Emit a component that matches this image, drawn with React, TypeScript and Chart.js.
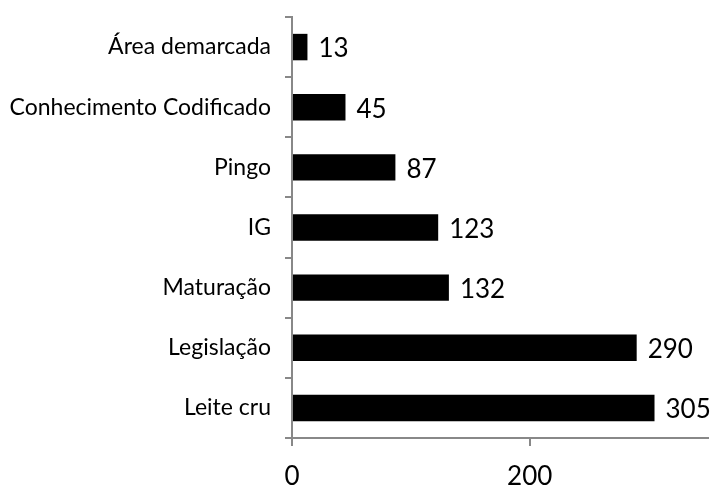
import React, { useEffect, useRef } from "react";
import { Chart, registerables } from "chart.js";

Chart.register(...registerables);

const categories = [
  "Área demarcada",
  "Conhecimento Codificado",
  "Pingo",
  "IG",
  "Maturação",
  "Legislação",
  "Leite cru",
];
const values = [13, 45, 87, 123, 132, 290, 305];
const xTicks = [0, 200];

const FONT = "Lato, 'Open Sans', sans-serif";

const labelPlugin = {
  id: "barLabels",
  afterDatasetsDraw(chart: any) {
    const ctx = chart.ctx;
    const meta = chart.getDatasetMeta(0);
    ctx.save();
    ctx.fillStyle = "#000";
    ctx.font = `26px ${FONT}`;
    ctx.textAlign = "left";
    ctx.textBaseline = "middle";
    meta.data.forEach((el: any, i: number) => {
      ctx.fillText(String(values[i]), el.x + 11, el.y + 2);
    });
    ctx.restore();
  },
};

export default function App() {
  const ref = useRef<HTMLCanvasElement | null>(null);
  useEffect(() => {
    document.body.style.margin = "0";
    const chart = new Chart(ref.current!, {
      type: "bar",
      data: {
        labels: categories,
        datasets: [
          {
            data: values,
            backgroundColor: "#000",
            borderWidth: 0,
            barPercentage: 0.44,
            categoryPercentage: 1,
          },
        ],
      },
      options: {
        indexAxis: "y",
        animation: false,
        responsive: false,
        layout: { padding: { top: 17, right: 2, left: 0, bottom: 0 } },
        plugins: { legend: { display: false }, tooltip: { enabled: false } },
        scales: {
          x: {
            min: 0,
            max: 350,
            afterBuildTicks: (scale: any) => {
              scale.ticks = xTicks.map((v) => ({ value: v }));
            },
            afterFit: (scale: any) => {
              scale.height = 48;
              scale.paddingLeft = 0;
              scale.paddingRight = 0;
            },
            grid: {
              drawOnChartArea: false,
              drawTicks: true,
              tickLength: 8,
              color: "#888",
              lineWidth: 2,
            },
            border: { color: "#888", width: 2 },
            ticks: {
              color: "#000",
              font: { family: FONT, size: 26 },
              padding: 15,
              maxRotation: 0,
            },
          },
          y: {
            afterFit: (scale: any) => {
              scale.width = 292;
              scale.paddingTop = 0;
              scale.paddingBottom = 0;
            },
            grid: {
              drawOnChartArea: false,
              drawTicks: true,
              tickLength: 7,
              color: "#888",
              lineWidth: 2,
            },
            border: { color: "#888", width: 2 },
            ticks: {
              color: "#000",
              font: { family: FONT, size: 23 },
              padding: 14,
              autoSkip: false,
            },
          },
        },
      },
      plugins: [labelPlugin],
    });
    return () => chart.destroy();
  }, []);
  return <canvas ref={ref} width={710} height={486} style={{ display: "block" }} />;
}
